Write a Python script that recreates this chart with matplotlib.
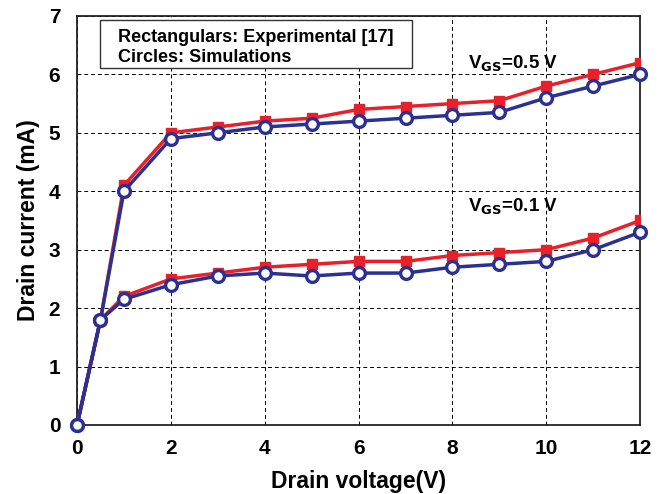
import matplotlib.pyplot as plt
from matplotlib.patches import Rectangle

# Drain voltage (V)
vd = [0, 0.5, 1, 2, 3, 4, 5, 6, 7, 8, 9, 10, 11, 12]

# VGS = 0.5 V
exp_05 = [0, 1.8, 4.1, 5.0, 5.1, 5.2, 5.25, 5.4, 5.45, 5.5, 5.55, 5.8, 6.0, 6.2]
sim_05 = [0, 1.8, 4.0, 4.9, 5.0, 5.1, 5.15, 5.2, 5.25, 5.3, 5.35, 5.6, 5.8, 6.0]

# VGS = 0.1 V
exp_01 = [0, 1.8, 2.2, 2.5, 2.6, 2.7, 2.75, 2.8, 2.8, 2.9, 2.95, 3.0, 3.2, 3.5]
sim_01 = [0, 1.8, 2.15, 2.4, 2.55, 2.6, 2.55, 2.6, 2.6, 2.7, 2.75, 2.8, 3.0, 3.3]

RED = "#e8202a"
BLUE = "#2b3192"

plt.rcParams["font.family"] = ["Liberation Sans", "DejaVu Sans"]
plt.rcParams["font.weight"] = "bold"

fig = plt.figure(figsize=(6.6, 4.94), dpi=100)
ax = fig.add_axes([0.1167, 0.1397, 0.8533, 0.828])

for e, s in [(exp_05, sim_05), (exp_01, sim_01)]:
    ax.plot(vd, e, color=RED, lw=2.5, marker="s", ms=7.5, mfc=RED, mec=RED, zorder=3)
    ax.plot(vd, s, color=BLUE, lw=2.5, marker="o", ms=8.5, mfc="white", mec=BLUE,
            mew=2.4, zorder=4, clip_on=False)

ax.set_xlim(0, 12)
ax.set_ylim(0, 7)
ax.set_xticks(range(0, 13, 2))
ax.set_yticks(range(0, 8))
ax.tick_params(axis="x", length=0, labelsize=15, pad=10)
ax.tick_params(axis="y", length=0, labelsize=15, pad=12)
for lab in ax.get_xticklabels() + ax.get_yticklabels():
    lab.set_fontweight("bold")
ax.grid(True, color="black", ls=(0, (4, 3)), lw=0.7)
for sp in ax.spines.values():
    sp.set_linewidth(1.3)
    sp.set_color("#222222")

ax.set_xlabel("Drain voltage(V)", fontsize=16.5, fontweight="bold", labelpad=9)
ax.set_ylabel("Drain current (mA)", fontsize=16.5, fontweight="bold", labelpad=6)

# note box
ax.add_patch(Rectangle((0.041, 0.873), 0.554, 0.117, transform=ax.transAxes,
                       fc="white", ec="#333333", lw=1.0, zorder=5))
ax.text(0.073, 0.936, "Rectangulars: Experimental [17]", transform=ax.transAxes,
        fontsize=13, fontweight="bold", va="baseline", ha="left", zorder=6)
ax.text(0.073, 0.8875, "Circles: Simulations", transform=ax.transAxes,
        fontsize=13, fontweight="bold", va="baseline", ha="left", zorder=6)

ax.text(8.33, 6.09, r"V$_{\mathbf{GS}}$=0.5 V", fontsize=13.5, fontweight="bold",
        ha="left", va="baseline", zorder=5)
ax.text(8.33, 3.65, r"V$_{\mathbf{GS}}$=0.1 V", fontsize=13.5, fontweight="bold",
        ha="left", va="baseline", zorder=5)

fig.savefig("out.png", dpi=100)
